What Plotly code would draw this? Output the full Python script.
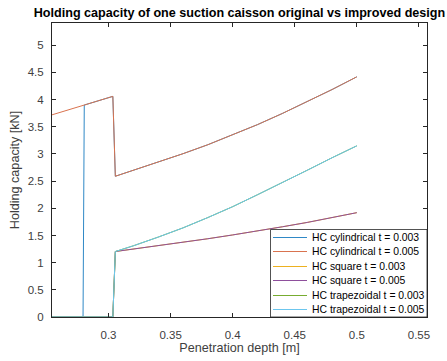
import plotly.graph_objects as go

# ---------------- data ----------------
series_names = [
    "HC cylindrical t = 0.003",
    "HC cylindrical t = 0.005",
    "HC square t = 0.003",
    "HC square t = 0.005",
    "HC trapezoidal t = 0.003",
    "HC trapezoidal t = 0.005",
]
series_colors = ["#2F88C6", "#D9734F", "#EDB120", "#8E4F9C", "#77AC30", "#6CC6EE"]

depth_tail = [0.32, 0.34, 0.36, 0.38, 0.40, 0.42, 0.44, 0.46, 0.48, 0.50]

cyl_head_x = [0.2545, 0.2805, 0.3035, 0.3055]
cyl5_head_y = [3.72, 3.90, 4.06, 2.59]
cyl5_tail_y = [2.70, 2.85, 3.005, 3.17, 3.35, 3.54, 3.745, 3.96, 4.185, 4.42]

cyl3_head_x = [0.2545, 0.2795, 0.2805, 0.3035, 0.3055]
cyl3_head_y = [0.0, 0.0, 3.90, 4.06, 2.59]
cyl3_tail_y = cyl5_tail_y

sq_head_x = [0.2545, 0.3035, 0.3055]
sq_head_y = [0.0, 0.0, 1.205]
sq5_tail_y = [1.25, 1.31, 1.37, 1.44, 1.51, 1.58, 1.66, 1.74, 1.83, 1.92]
sq3_tail_y = sq5_tail_y

tr_head_x = [0.2545, 0.3035, 0.3055]
tr_head_y = [0.0, 0.0, 1.205]
tr5_tail_y = [1.31, 1.47, 1.64, 1.83, 2.03, 2.25, 2.47, 2.70, 2.93, 3.15]
tr3_tail_y = tr5_tail_y

x_ticks = [0.3, 0.35, 0.4, 0.45, 0.5, 0.55]
y_ticks = [0, 0.5, 1, 1.5, 2, 2.5, 3, 3.5, 4, 4.5, 5]
x_range = [0.2545, 0.5565]
y_range = [0, 5.41]

title_text = "Holding capacity of one suction caisson original vs improved design"
x_title = "Penetration depth [m]"
y_title = "Holding capacity [kN]"

series_x = [
    cyl3_head_x + depth_tail,
    cyl_head_x + depth_tail,
    sq_head_x + depth_tail,
    sq_head_x + depth_tail,
    tr_head_x + depth_tail,
    tr_head_x + depth_tail,
]
series_y = [
    cyl3_head_y + cyl3_tail_y,
    cyl5_head_y + cyl5_tail_y,
    sq_head_y + sq3_tail_y,
    sq_head_y + sq5_tail_y,
    tr_head_y + tr3_tail_y,
    tr_head_y + tr5_tail_y,
]

# ---------------- figure ----------------
FONT = "Liberation Sans, Arial, sans-serif"
AX = "#262626"

fig = go.Figure()
for name, color, xs, ys in zip(series_names, series_colors, series_x, series_y):
    fig.add_trace(go.Scatter(x=xs, y=ys, mode="lines", name=name,
                             line=dict(color=color, width=1),
                             showlegend=False))

W, H = 447, 361
ml, mr, mt, mb = 52, 20, 23, 44
pw, ph = W - ml - mr, H - mt - mb

axis_common = dict(showgrid=False, zeroline=False, showline=True, linecolor=AX,
                   linewidth=1, mirror="allticks", ticks="inside", ticklen=4,
                   tickcolor=AX, automargin=False,
                   tickfont=dict(family=FONT, size=11.5, color="#404040"))

fig.update_layout(
    width=W, height=H,
    margin=dict(l=ml, r=mr, t=mt, b=mb, pad=0, autoexpand=False),
    paper_bgcolor="white", plot_bgcolor="white",
    title=dict(text="<b>" + title_text + "</b>", x=(ml + pw / 2) / W, xanchor="center",
               y=1 - 13 / H, yanchor="middle",
               font=dict(family=FONT, size=12.6, color="black")),
    xaxis=dict(range=x_range, tickvals=x_ticks, ticktext=[str(v) for v in x_ticks],
               title=dict(text=x_title, standoff=2, font=dict(family=FONT, size=12.6, color="#404040")),
               ticklabelstandoff=7, **axis_common),
    yaxis=dict(range=y_range, tickvals=y_ticks, ticktext=[("%g" % v) for v in y_ticks],
               title=dict(text=y_title, standoff=5, font=dict(family=FONT, size=12.6, color="#404040")),
               ticklabelstandoff=5, **axis_common),
    showlegend=False,
)

# ---------------- legend box (drawn in paper coordinates) ----------------
def px_x(p):
    return (p - ml) / pw

def px_y(p):
    return (H - mb - p) / ph

leg_left, leg_top = 270.5, 229.5
row0, row_step = 237.5, 14.4
shapes = [dict(type="rect", xref="paper", yref="paper",
               x0=px_x(leg_left), x1=1, y0=0, y1=px_y(leg_top),
               line=dict(color=AX, width=0.8), fillcolor="white", layer="above")]
annotations = []
for i, (name, color) in enumerate(zip(series_names, series_colors)):
    ypx = int(row0 + i * row_step) + 0.5
    yy = px_y(ypx)
    shapes.append(dict(type="line", xref="paper", yref="paper",
                       x0=px_x(273), x1=px_x(307), y0=yy, y1=yy,
                       line=dict(color=color, width=1), layer="above"))
    annotations.append(dict(xref="paper", yref="paper", x=px_x(310), y=yy,
                            xanchor="left", yanchor="middle", showarrow=False,
                            text=name, font=dict(family=FONT, size=10.4, color="black")))
fig.update_layout(shapes=shapes, annotations=annotations)

fig.write_html("out.html")
